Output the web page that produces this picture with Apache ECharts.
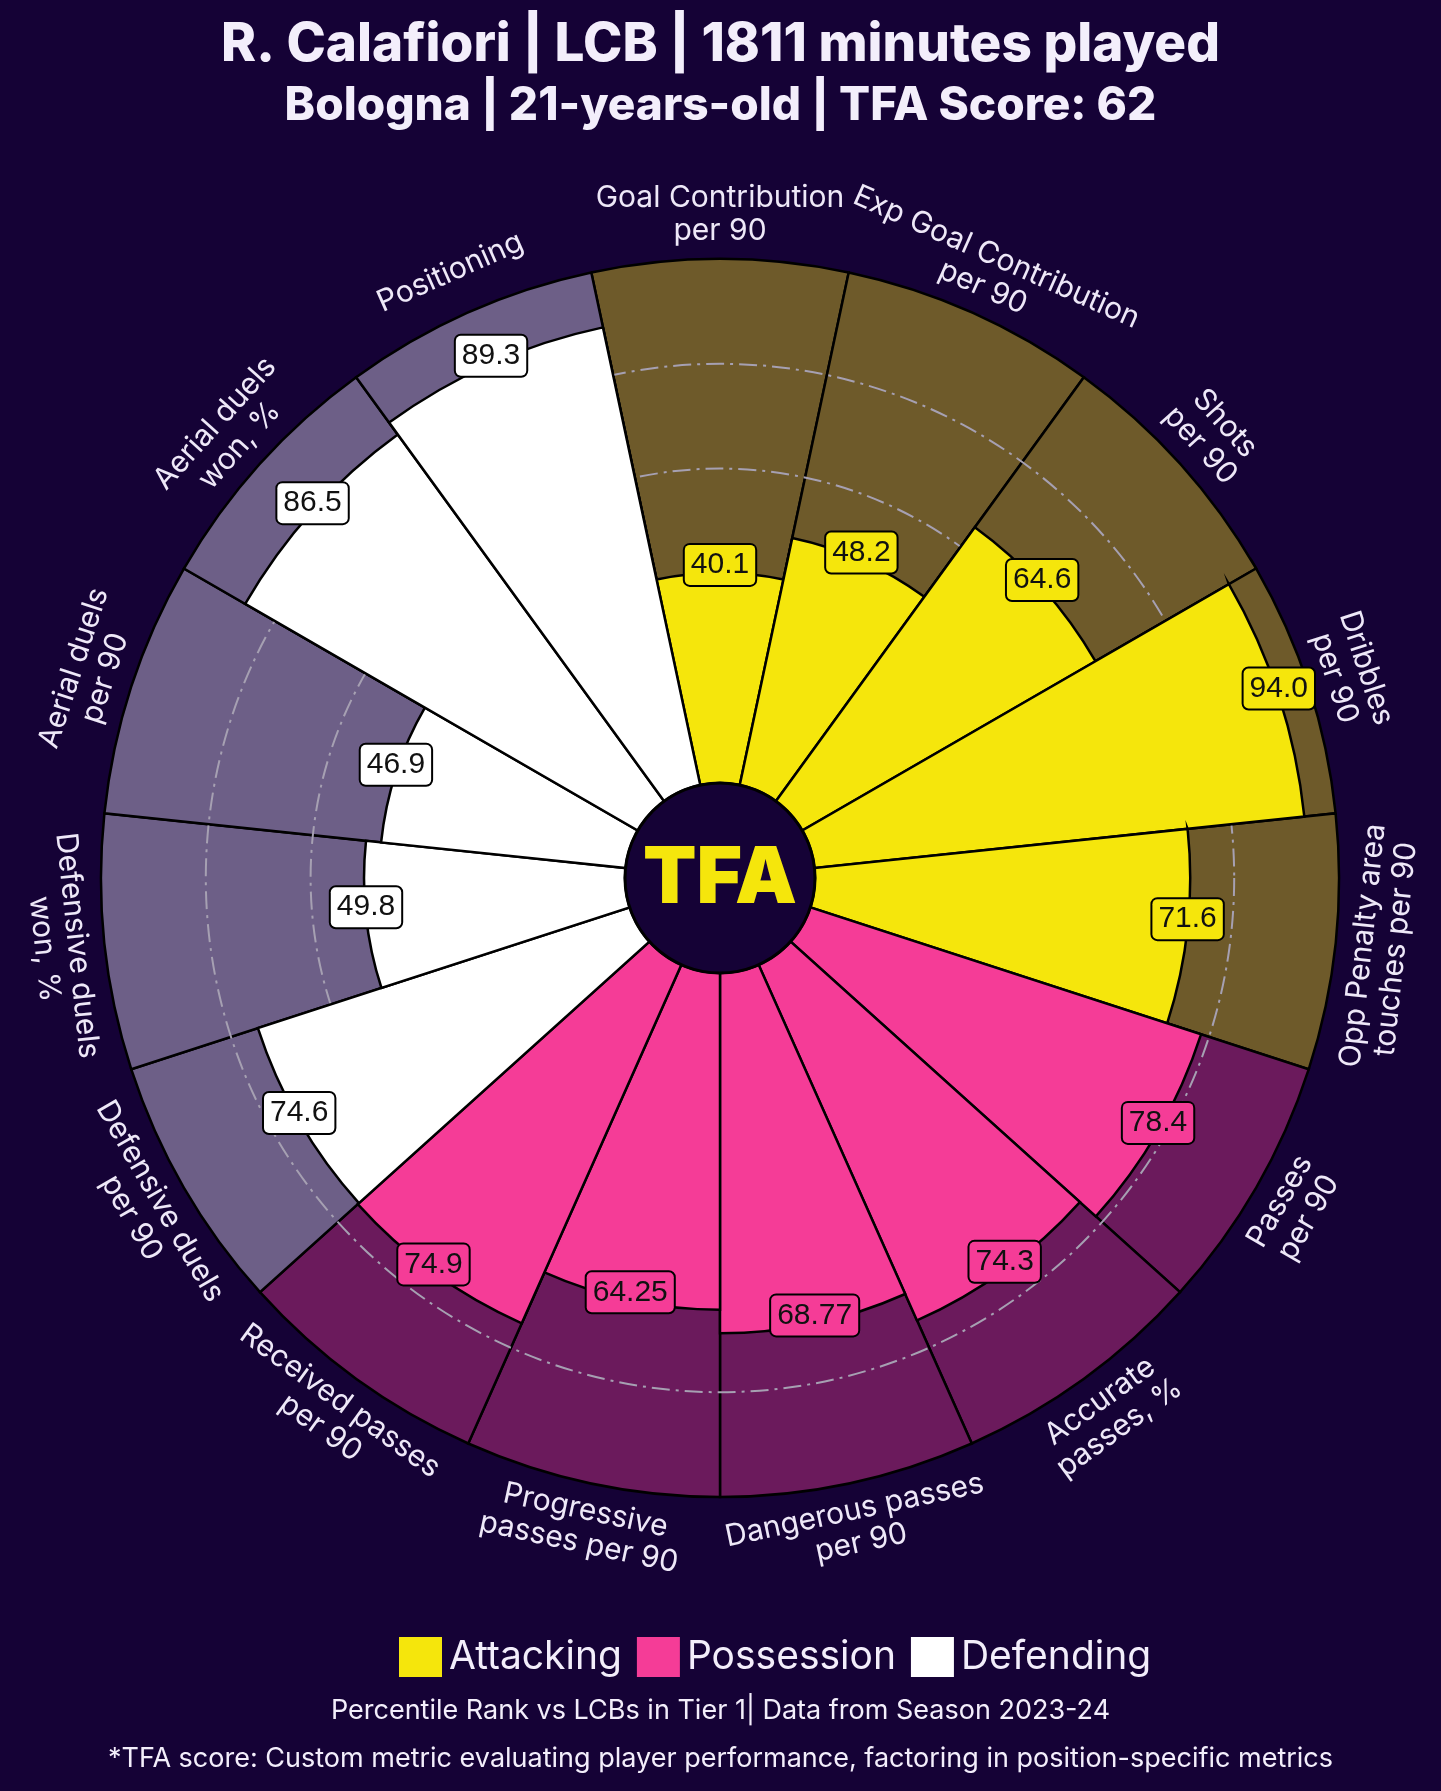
<!DOCTYPE html>
<html>
<head>
<meta charset="utf-8">
<script src="https://cdn.jsdelivr.net/npm/echarts@6/dist/echarts.min.js"></script>
<style>
  html, body { margin: 0; padding: 0; background: #150236; }
  #chart { width: 1441px; height: 1791px; }
</style>
</head>
<body>
<div id="chart"></div>
<script>
// ---------- DATA ----------
const categories = [
  'Goal Contribution\nper 90',
  'Exp Goal Contribution\nper 90',
  'Shots\nper 90',
  'Dribbles\nper 90',
  'Opp Penalty area\ntouches per 90',
  'Passes\nper 90',
  'Accurate\npasses, %',
  'Dangerous passes\nper 90',
  'Progressive\npasses per 90',
  'Received passes\nper 90',
  'Defensive duels\nper 90',
  'Defensive duels\nwon, %',
  'Aerial duels\nper 90',
  'Aerial duels\nwon, %',
  'Positioning'
];
const values = [40.1, 48.2, 64.6, 94.0, 71.6, 78.4, 74.3, 68.77, 64.25, 74.9, 74.6, 49.8, 46.9, 86.5, 89.3];
const groups = [
  'Attacking', 'Attacking', 'Attacking', 'Attacking', 'Attacking',
  'Possession', 'Possession', 'Possession', 'Possession', 'Possession',
  'Defending', 'Defending', 'Defending', 'Defending', 'Defending'
];
const groupNames = ['Attacking', 'Possession', 'Defending'];
const maxValue = 100;
const titleLine1 = 'R. Calafiori | LCB | 1811 minutes played';
const titleLine2 = 'Bologna | 21-years-old | TFA Score: 62';
const footer1 = 'Percentile Rank vs LCBs in Tier 1| Data from Season 2023-24';
const footer2 = '*TFA score: Custom metric evaluating player performance, factoring in position-specific metrics';

// ---------- STYLE ----------
const BG = '#150236';
const TEXT = '#f3eefb';
const LABEL = '#eee8f8';
const groupColor = { Attacking: '#f5e60c', Possession: '#f53c97', Defending: '#ffffff' };
const groupBg = { Attacking: '#6e5a2a', Possession: '#6b1a5c', Defending: '#6d5f87' };
const CX = 720, CY = 878, R_OUT = 619, R_ZERO = 95, R_INNER = 95;
const LABEL_R = 108.4;      // radial position of category names (axis units)
const N = categories.length;
const step = 360 / N;
const startAngle = 90 + step / 2;
const GRID = '#a6a0b2';

function fmt(v) { return Number.isInteger(Math.round(v * 100) / 10) ? v.toFixed(1) : String(v); }
function labelRotation(i) {
  let th = 90 - step * i;
  while (th <= -180) th += 360;
  while (th > 180) th -= 360;
  return (th >= 0) ? th - 90 : th + 90;
}

const chart = echarts.init(document.getElementById('chart'), null, { renderer: 'canvas' });

const series = [];
series.push({
  name: 'bg',
  type: 'bar',
  coordinateSystem: 'polar',
  barGap: '-100%',
  barCategoryGap: '0%',
  z: 1,
  silent: true,
  data: categories.map((c, i) => ({
    value: maxValue,
    itemStyle: { color: groupBg[groups[i]] }
  })),
  itemStyle: { borderColor: '#000', borderWidth: 2.5 }
});
groupNames.forEach(g => {
  series.push({
    name: g,
    type: 'bar',
    coordinateSystem: 'polar',
    barGap: '-100%',
    barCategoryGap: '0%',
    z: 3,
    data: values.map((v, i) => groups[i] === g ? v : null),
    itemStyle: { color: groupColor[g], borderColor: '#000', borderWidth: 2.5 }
  });
});
series.push({
  name: 'valueLabels',
  type: 'scatter',
  coordinateSystem: 'polar',
  clip: false,
  z: 6,
  symbolSize: 1,
  itemStyle: { color: 'rgba(0,0,0,0)', opacity: 1 },
  silent: true,
  data: values.map((v, i) => ({
    value: [v, i],
    label: { backgroundColor: groupColor[groups[i]], formatter: fmt(v) }
  })),
  label: {
    show: true,
    position: 'inside',
    offset: [0, -8],
    fontFamily: 'Liberation Sans, Arial, sans-serif',
    fontSize: 30,
    lineHeight: 32,
    color: '#111',
    borderColor: '#000',
    borderWidth: 2,
    borderRadius: 5,
    padding: [5, 6, 3, 6]
  }
});
series.push({
  name: 'categoryLabels',
  type: 'scatter',
  coordinateSystem: 'polar',
  clip: false,
  z: 6,
  symbolSize: 1,
  itemStyle: { color: 'rgba(0,0,0,0)', opacity: 1 },
  silent: true,
  data: categories.map((c, i) => ({
    value: [LABEL_R, i],
    label: { rotate: labelRotation(i) }
  })),
  label: {
    show: true,
    position: 'inside',
    formatter: p => categories[p.dataIndex],
    fontFamily: 'Inter, sans-serif',
    fontSize: 30,
    lineHeight: 33,
    color: LABEL,
    align: 'center',
    verticalAlign: 'middle'
  }
});

const option = {
  backgroundColor: BG,
  animation: false,
  title: [
    { text: titleLine1, left: 'center', top: 14,
      textStyle: { color: TEXT, fontSize: 53, fontWeight: 800, fontFamily: 'Inter, sans-serif' } },
    { text: titleLine2, left: 'center', top: 78,
      textStyle: { color: TEXT, fontSize: 46, fontWeight: 800, fontFamily: 'Inter, sans-serif' } },
    { text: footer1, left: 'center', top: 1692,
      textStyle: { color: TEXT, fontSize: 27, fontWeight: 'normal', fontFamily: 'Inter, sans-serif' } },
    { text: footer2, left: 'center', top: 1740,
      textStyle: { color: TEXT, fontSize: 27, fontWeight: 'normal', fontFamily: 'Inter, sans-serif' } }
  ],
  legend: {
    data: groupNames,
    left: 394,
    top: 1632,
    icon: 'rect',
    itemWidth: 43,
    itemHeight: 40,
    itemGap: 15,
    itemStyle: { borderWidth: 0 },
    textStyle: { color: TEXT, fontSize: 39, fontFamily: 'Inter, sans-serif', padding: [0, 0, 0, 2] }
  },
  polar: { center: [CX, CY], radius: [R_ZERO, R_OUT] },
  angleAxis: {
    type: 'category',
    data: categories,
    startAngle: startAngle,
    clockwise: true,
    axisLine: { show: false },
    axisTick: { show: false },
    axisLabel: { show: false },
    splitLine: { show: false }
  },
  radiusAxis: {
    type: 'value',
    min: 0,
    max: maxValue,
    interval: 20,
    z: 2,
    axisLine: { show: false },
    axisTick: { show: false },
    axisLabel: { show: false },
    splitLine: {
      show: true,
      showMinLine: true,
      showMaxLine: true,
      lineStyle: {
        color: ['rgba(0,0,0,0)', GRID, GRID, GRID, GRID, 'rgba(0,0,0,0)'],
        width: 2,
        type: [18, 6, 3, 6]
      }
    }
  },
  series: series,
  graphic: [
    { type: 'circle', z: 100, shape: { cx: CX, cy: CY, r: R_INNER },
      style: { fill: BG, stroke: '#000', lineWidth: 3 } },
    { type: 'text', z: 101, x: CX, y: CY + 2,
      style: { text: 'TFA', fill: '#f5e60c', fontSize: 78, fontWeight: 900,
               fontFamily: 'Inter, sans-serif', align: 'center', verticalAlign: 'middle' } }
  ]
};
chart.setOption(option);
</script>
</body>
</html>
